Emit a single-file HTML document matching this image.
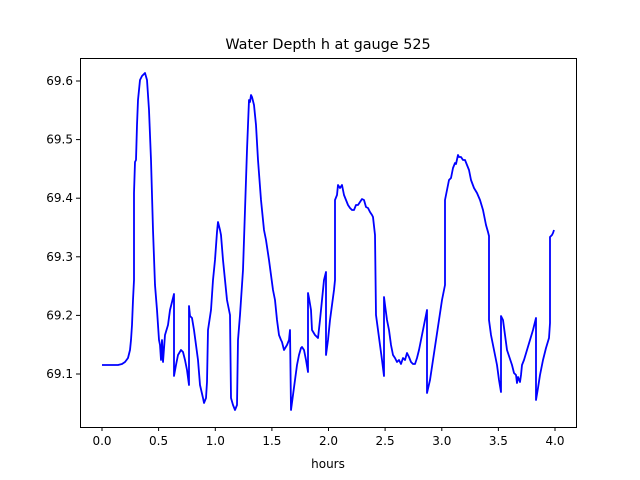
<!DOCTYPE html>
<html><head><style>body{margin:0;background:#fff}svg{display:block}text{font-family:"DejaVu Sans","Liberation Sans",sans-serif;fill:#000}</style></head>
<body>
<svg width="640" height="480" viewBox="0 0 640 480" xmlns="http://www.w3.org/2000/svg">
<rect width="640" height="480" fill="#fff"/>
<polyline fill="none" stroke="#0000ff" stroke-width="1.8" stroke-linejoin="round" points="
102,365 118,365 122,364 125,362 128,358 130,350 131,340 132,325 133,300 134,280 134,193 135,162 136,160 137,125 138,100 140,80 142,76 144,74 145,73 147,80 149,110 151,160 153,230 155,285 157,310 159,340 160,345 161,360 162,340 163,362 165,335 168,325 170,310 172,302 174,294 174,376 176,365 178,355 181,350 183,352 185,360 187,370 189,385 189,306 190,316 192,318 194,330 196,345 198,360 200,385 203,398 204,403 206,398 207,382 208,330 211,310 213,280 215,260 217,232 218,222 220,230 221,235 223,260 225,280 227,300 230,315 231,398 233,405 235,410 237,405 238,340 240,315 243,270 245,210 247,150 249,100 250,102 251,95 252,97 254,105 256,125 258,160 261,200 264,230 266,240 269,260 271,275 273,290 275,300 277,320 279,335 281,340 282,342 284,350 287,345 289,340 290,330 291,410 293,395 295,380 297,365 299,355 301,348 302,347 304,350 306,360 308,372 308,293 309,298 311,310 312,330 315,335 318,338 320,320 322,300 324,280 326,272 326,355 328,340 330,320 332,305 334,290 335,280 335,200 337,195 338,185 340,188 342,185 344,195 346,200 348,205 350,208 352,210 354,210 356,205 358,205 360,202 362,199 364,200 366,207 368,208 370,212 372,215 373,217 375,235 376,315 378,330 380,345 382,360 384,376 384,297 385,305 387,320 389,330 391,345 393,355 395,358 397,362 399,360 401,364 403,358 405,360 407,353 409,357 411,362 413,364 415,364 417,358 419,350 421,340 424,325 427,310 427,393 430,380 433,360 436,340 439,320 442,300 445,285 445,200 447,190 449,180 451,178 453,168 455,163 456,164 458,155 459,157 461,157 463,160 465,160 467,165 469,170 471,180 474,188 477,193 480,200 483,210 486,225 488,232 489,236 489,320 491,335 494,350 497,365 499,380 501,392 501,316 503,320 505,335 507,350 509,356 512,365 514,373 516,375 517,383 518,377 520,382 521,375 522,365 524,360 527,350 530,340 533,330 536,318 536,400 538,388 540,375 543,360 546,348 549,338 550,323 550,237 552,235 553,233 554,230"/>
<rect x="80.5" y="58.5" width="496" height="369" fill="none" stroke="#000" stroke-width="1"/>
<g stroke="#000" stroke-width="1">
<line x1="102" y1="427" x2="102" y2="431"/><line x1="158.6" y1="427" x2="158.6" y2="431"/><line x1="215.3" y1="427" x2="215.3" y2="431"/><line x1="271.9" y1="427" x2="271.9" y2="431"/><line x1="328.5" y1="427" x2="328.5" y2="431"/><line x1="385.1" y1="427" x2="385.1" y2="431"/><line x1="441.8" y1="427" x2="441.8" y2="431"/><line x1="498.4" y1="427" x2="498.4" y2="431"/><line x1="555" y1="427" x2="555" y2="431"/>
<line x1="76" y1="374" x2="80" y2="374"/><line x1="76" y1="315.4" x2="80" y2="315.4"/><line x1="76" y1="256.8" x2="80" y2="256.8"/><line x1="76" y1="198.2" x2="80" y2="198.2"/><line x1="76" y1="139.6" x2="80" y2="139.6"/><line x1="76" y1="81" x2="80" y2="81"/>
</g>
<g font-size="12" text-anchor="middle">
<text x="102" y="445">0.0</text><text x="158.6" y="445">0.5</text><text x="215.3" y="445">1.0</text><text x="271.9" y="445">1.5</text><text x="328.5" y="445">2.0</text><text x="385.1" y="445">2.5</text><text x="441.8" y="445">3.0</text><text x="498.4" y="445">3.5</text><text x="555" y="445">4.0</text>
<text x="328" y="468">hours</text>
</g>
<g font-size="12" text-anchor="end">
<text x="73" y="378">69.1</text><text x="73" y="319.4">69.2</text><text x="73" y="260.8">69.3</text><text x="73" y="202.2">69.4</text><text x="73" y="143.6">69.5</text><text x="73" y="85">69.6</text>
</g>
<text x="328" y="49" font-size="14.4" text-anchor="middle">Water Depth h at gauge 525</text>
</svg>
</body></html>
